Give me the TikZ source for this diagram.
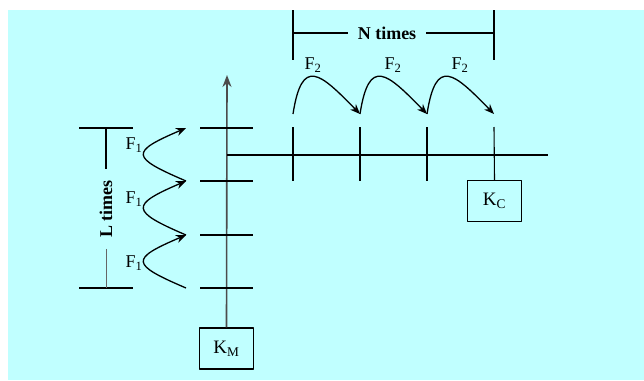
\documentclass[tikz,border=0pt]{standalone}
\usepackage{fontspec}
\setmainfont{Liberation Serif}
\usetikzlibrary{arrows.meta}
\definecolor{BgCyan}{RGB}{192,255,255}

\begin{document}
\begin{tikzpicture}[
  x=1pt, y=-1pt,
  >={Stealth[length=10pt,width=8pt]},
  line join=round,
  every node/.style={font=\fontsize{18}{18}\selectfont},
  axis/.style={line width=1.6pt, black!70},
  tick/.style={line width=1.1pt},
  hop/.style={->, line width=1.3pt},
  kbox/.style={draw, line width=1.1pt, minimum width=54pt, minimum height=41pt, inner sep=0pt, font=\fontsize{19}{19}\selectfont},
  span/.style={fill=BgCyan, inner ysep=0pt, font=\fontsize{18}{18}\selectfont\bfseries}
]
  % background
  \useasboundingbox (0,0) rectangle (644,380);
  \fill[BgCyan] (8,10) rectangle (644,380);

  % boxes
  \node[kbox] (KM) at (226.5,348.5) {K\textsubscript{M}};
  \node[kbox] (KC) at (494.5,201) {K\textsubscript{C}};

  % main axes
  \coordinate (top) at (227,75);
  \coordinate (corner) at (227,155);
  \coordinate (far) at (548,155);
  \draw[axis, ->, >={Stealth[length=12pt,width=9pt]}] (KM.north) -- (top);
  \draw[tick] (corner) -- (far);

  % levels on the vertical axis
  \foreach \y [count=\i] in {288,235,181,128}{
    \coordinate (m\i) at (186,\y);
    \draw[tick] (200,\y) -- (253,\y);
  }
  \draw[tick] (79,128) -- (133,128);
  \draw[tick] (79,288) -- (133,288);

  % L times bracket
  \coordinate (lt) at (106,128);
  \coordinate (lb) at (106,288);
  \node[span, rotate=90, inner xsep=11pt] (Ltimes) at (106,209) {L times};
  \draw[tick] (lt) -- (Ltimes);
  \draw[line width=0.6pt, black!60] (Ltimes) -- (lb);

  % F1 hops
  \draw[hop] (m1) .. controls +(-56,-24) and +(-56,24) .. (m2);
  \draw[hop] (m2) .. controls +(-56,-24) and +(-56,24) .. (m3);
  \draw[hop] (m3) .. controls +(-56,-24) and +(-56,24) .. (m4);
  \node (f1a) at (134,263) {F\textsubscript{1}};
  \node (f1b) at (134,199) {F\textsubscript{1}};
  \node (f1c) at (134,145) {F\textsubscript{1}};

  % steps on the horizontal line
  \foreach \x [count=\i] in {293,360,427,494}{
    \coordinate (n\i) at (\x,114);
    \coordinate (t\i) at (\x,127);
  }
  \draw[tick] (t1) -- (293,181);
  \draw[tick] (t2) -- (360,181);
  \draw[tick] (t3) -- (427,181);
  \draw[tick] (t4) -- (KC.north);

  % N times bracket
  \coordinate (nl) at (293,10);
  \coordinate (nr) at (494,10);
  \node[span, inner xsep=10pt] (Ntimes) at (387,33) {N times};
  \draw[tick] (nl) -- (293,60);
  \draw[tick] (nr) -- (494,60);
  \draw[tick] (293,33) -- (Ntimes);
  \draw[tick] (Ntimes) -- (494,33);

  % F2 hops
  \draw[hop] (n1) .. controls +(9,-58) and +(-40,-41) .. (n2);
  \draw[hop] (n2) .. controls +(9,-58) and +(-40,-41) .. (n3);
  \draw[hop] (n3) .. controls +(9,-58) and +(-40,-41) .. (n4);
  \node (f2a) at (313,65) {F\textsubscript{2}};
  \node (f2b) at (393,65) {F\textsubscript{2}};
  \node (f2c) at (460,65) {F\textsubscript{2}};
\end{tikzpicture}
\end{document}
